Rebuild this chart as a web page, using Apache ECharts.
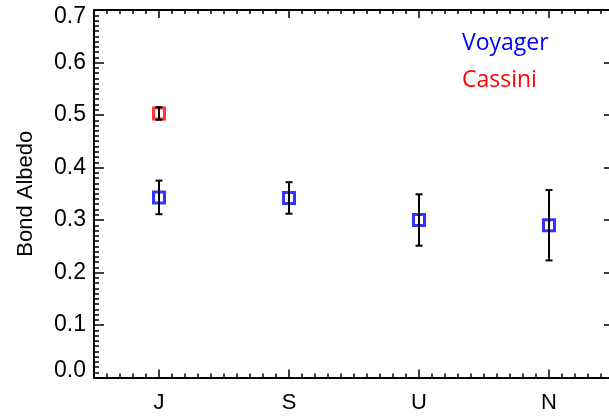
<!DOCTYPE html>
<html>
<head>
<meta charset="utf-8">
<script src="https://cdn.jsdelivr.net/npm/echarts@6/dist/echarts.min.js"></script>
<style>html,body{margin:0;padding:0;background:#fff;}#c{width:609px;height:417px;}</style>
</head>
<body>
<div id="c"></div>
<script>
// Data
var categories = ['J', 'S', 'U', 'N'];
var categoryPos = [1, 2, 3, 4];
var voyagerAlbedo = [0.343, 0.342, 0.300, 0.290];
var voyagerError = [0.032, 0.030, 0.049, 0.067];
var cassiniPlanet = [1];
var cassiniAlbedo = [0.503];
var cassiniError = [0.012];
var yTicks = [0.0, 0.1, 0.2, 0.3, 0.4, 0.5, 0.6, 0.7];

var FONT = '"Liberation Sans", Arial, sans-serif';

var voyagerPts = categoryPos.map(function (x, i) { return [x, voyagerAlbedo[i]]; });
var voyagerErr = categoryPos.map(function (x, i) { return [x, voyagerAlbedo[i] - voyagerError[i], voyagerAlbedo[i] + voyagerError[i]]; });
var cassiniPts = cassiniPlanet.map(function (x, i) { return [x, cassiniAlbedo[i]]; });
var cassiniErr = cassiniPlanet.map(function (x, i) { return [x, cassiniAlbedo[i] - cassiniError[i], cassiniAlbedo[i] + cassiniError[i]]; });

function errRender(params, api) {
  var x = api.value(0);
  var lo = api.coord([x, api.value(1)]);
  var hi = api.coord([x, api.value(2)]);
  var cap = 3.5;
  var st = { stroke: '#000', lineWidth: 2 };
  return {
    type: 'group',
    children: [
      { type: 'line', shape: { x1: lo[0], y1: lo[1], x2: hi[0], y2: hi[1] }, style: st },
      { type: 'line', shape: { x1: lo[0] - cap, y1: lo[1], x2: lo[0] + cap, y2: lo[1] }, style: st },
      { type: 'line', shape: { x1: hi[0] - cap, y1: hi[1], x2: hi[0] + cap, y2: hi[1] }, style: st }
    ]
  };
}

var lineStyle = { color: '#000', width: 2 };
var tickStyle = { color: '#000', width: 1.5 };

var chart = echarts.init(document.getElementById('c'), null, { renderer: 'canvas' });
chart.setOption({
  animation: false,
  backgroundColor: '#fff',
  grid: { left: 94, top: 10, width: 520, height: 367.5, containLabel: false, outerBoundsMode: 'none' },
  xAxis: [
    {
      type: 'value', min: 0.5, max: 4.5, position: 'bottom',
      axisLine: { show: true, lineStyle: lineStyle },
      axisTick: { show: true, inside: true, length: 8, lineStyle: tickStyle, customValues: categoryPos },
      axisLabel: {
        show: true, customValues: categoryPos, margin: 14,
        fontFamily: FONT, fontSize: 22, color: '#000',
        formatter: function (v) { return categories[Math.round(v) - 1] || ''; }
      },
      splitLine: { show: false }
    },
    {
      type: 'value', min: 0.5, max: 4.5, interval: 0.1, position: 'bottom',
      axisLine: { show: false },
      axisTick: { show: true, inside: true, length: 4, lineStyle: tickStyle },
      axisLabel: { show: false },
      splitLine: { show: false }
    },
    {
      type: 'value', min: 0.5, max: 4.5, position: 'top',
      axisLine: { show: true, lineStyle: lineStyle },
      axisTick: { show: true, inside: true, length: 8, lineStyle: tickStyle, customValues: categoryPos },
      axisLabel: { show: false },
      splitLine: { show: false }
    },
    {
      type: 'value', min: 0.5, max: 4.5, interval: 0.1, position: 'top',
      axisLine: { show: false },
      axisTick: { show: true, inside: true, length: 4, lineStyle: tickStyle },
      axisLabel: { show: false },
      splitLine: { show: false }
    }
  ],
  yAxis: [
    {
      type: 'value', min: 0, max: 0.7, interval: 0.1, position: 'left',
      name: 'Bond Albedo', nameLocation: 'middle', nameGap: 57,
      nameTextStyle: { fontFamily: FONT, fontSize: 22, color: '#000' },
      axisLine: { show: true, lineStyle: lineStyle },
      axisTick: { show: true, inside: true, length: 10, lineStyle: tickStyle },
      minorTick: { show: true, splitNumber: 10, length: 5, lineStyle: tickStyle },
      axisLabel: {
        show: true, margin: 8, fontFamily: FONT, fontSize: 23, color: '#000', lineHeight: 14,
        verticalAlignMaxLabel: 'top', verticalAlignMinLabel: 'bottom',
        customValues: yTicks,
        formatter: function (v) { return v.toFixed(1); }
      },
      splitLine: { show: false }, minorSplitLine: { show: false }
    },
    {
      type: 'value', min: 0, max: 0.7, interval: 0.1, position: 'right',
      axisLine: { show: true, lineStyle: lineStyle },
      axisTick: { show: true, inside: true, length: 10, lineStyle: tickStyle },
      minorTick: { show: true, splitNumber: 10, length: 5, lineStyle: tickStyle },
      axisLabel: { show: false },
      splitLine: { show: false }, minorSplitLine: { show: false }
    }
  ],
  series: [
    {
      type: 'scatter', name: 'Voyager', data: voyagerPts,
      symbol: 'rect', symbolSize: 11,
      itemStyle: { color: 'rgba(0,0,0,0)', borderColor: '#0000ff', borderWidth: 3 },
      z: 2
    },
    {
      type: 'scatter', name: 'Cassini', data: cassiniPts,
      symbol: 'rect', symbolSize: 11,
      itemStyle: { color: 'rgba(0,0,0,0)', borderColor: '#ff0000', borderWidth: 3 },
      z: 2
    },
    { type: 'custom', name: 'VoyagerErr', data: voyagerErr, renderItem: errRender, z: 3 },
    { type: 'custom', name: 'CassiniErr', data: cassiniErr, renderItem: errRender, z: 3 }
  ],
  graphic: [
    { type: 'text', left: 462, top: 32, style: { text: 'Voyager', fill: '#0000ff', font: '23px "Open Sans", sans-serif' } },
    { type: 'text', left: 462, top: 69, style: { text: 'Cassini', fill: '#ff0000', font: '23px "Open Sans", sans-serif' } }
  ]
});
</script>
</body>
</html>
